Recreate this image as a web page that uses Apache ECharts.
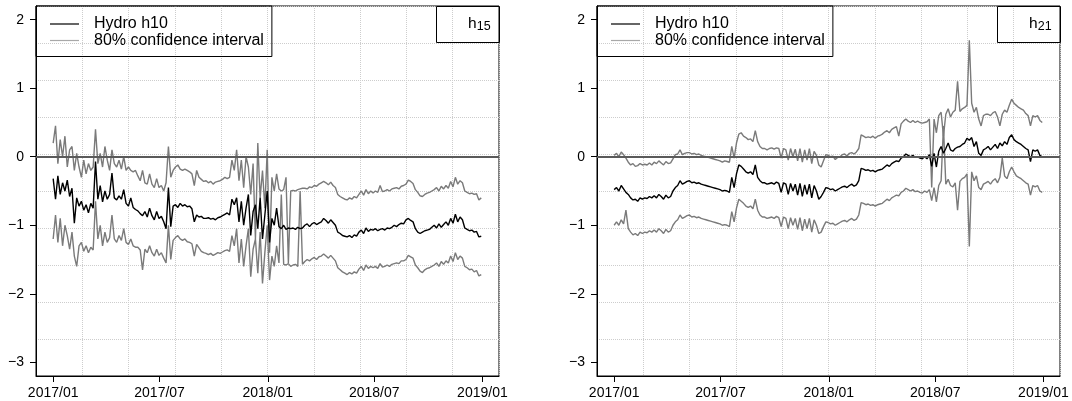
<!DOCTYPE html>
<html><head><meta charset="utf-8">
<script src="https://cdn.jsdelivr.net/npm/echarts@6/dist/echarts.min.js"></script>
<style>html,body{margin:0;padding:0;background:#fff}#c{width:1072px;height:401px}</style>
</head><body><div id="c"></div>
<script>
// ---- data ----
const startDate = '2017-01-01';
const stepDays = 4; // one reading every 4 days from startDate
const xTickDays = [0, 181, 365, 546, 730];
const xTickLabels = ['2017/01', '2017/07', '2018/01', '2018/07', '2019/01'];
const yTicks = [-3, -2, -1, 0, 1, 2];
const panelLabels = [['h', '15'], ['h', '21']];
const seriesNames = ['Hydro h10', '80% confidence interval'];

const hydroL = [
-0.32,-0.62,-0.28,-0.55,-0.38,-0.5,-0.34,-0.58,-0.46,-0.97,
-0.6,-0.72,-0.65,-0.78,-0.7,-0.82,-0.68,-0.75,-0.07,-0.62,
-0.42,-0.66,-0.5,-0.62,-0.55,-0.24,-0.6,-0.63,-0.57,-0.62,
-0.48,-0.68,-0.72,-0.6,-0.74,-0.77,-0.79,-0.83,-0.86,-0.8,
-0.88,-0.75,-0.86,-0.92,-0.8,-0.9,-0.87,-0.95,-1.05,-0.45,
-1.02,-0.72,-0.7,-0.74,-0.68,-0.72,-0.7,-0.73,-0.72,-0.76,
-0.95,-0.85,-0.88,-0.87,-0.9,-0.9,-0.89,-0.91,-0.9,-0.92,
-0.89,-0.88,-0.86,-0.84,-0.82,-0.85,-0.62,-0.7,-0.6,-0.95,
-0.65,-1.0,-0.75,-0.55,-1.15,-0.8,-0.7,-1.05,-0.6,-1.2,
-0.85,-0.5,-1.25,-0.9,-1.0,-0.75,-1.02,-1.05,-1.0,-1.06,
-1.04,-1.05,-1.04,-1.06,-1.03,-1.05,-1.04,-1.0,-0.98,-1.02,
-0.98,-0.96,-0.99,-0.97,-0.95,-0.9,-0.93,-0.97,-0.92,-0.96,
-1.0,-1.1,-1.12,-1.15,-1.16,-1.17,-1.15,-1.18,-1.14,-1.16,
-1.1,-1.07,-1.12,-1.04,-1.09,-1.06,-1.07,-1.05,-1.08,-1.06,
-1.05,-1.07,-1.04,-1.05,-1.03,-1.0,-1.02,-0.99,-0.97,-0.98,
-0.92,-0.9,-0.93,-0.95,-1.05,-1.1,-1.12,-1.1,-1.08,-1.07,
-1.06,-1.03,-1.0,-1.04,-0.98,-1.03,-0.99,-0.95,-1.0,-0.9,
-0.97,-0.84,-0.95,-0.88,-0.92,-1.04,-1.06,-1.08,-1.07,-1.1,
-1.09,-1.17,-1.16
];
const upperL = [
0.2,0.45,-0.1,0.25,0.0,0.3,-0.15,0.1,0.15,-0.2,
0.05,-0.15,-0.3,-0.05,-0.25,-0.1,-0.2,-0.15,0.4,-0.1,
0.05,-0.15,0.15,-0.05,-0.2,0.1,-0.1,-0.15,-0.05,-0.18,
0.0,-0.2,-0.15,-0.2,-0.22,-0.2,-0.28,-0.35,-0.2,-0.38,
-0.4,-0.25,-0.4,-0.45,-0.32,-0.45,-0.42,-0.5,-0.38,0.15,
-0.3,-0.2,-0.15,-0.12,-0.18,-0.2,-0.18,-0.2,-0.22,-0.25,
-0.42,-0.2,-0.3,-0.33,-0.36,-0.35,-0.38,-0.36,-0.4,-0.37,
-0.36,-0.35,-0.33,-0.3,-0.32,-0.3,-0.05,-0.2,0.1,-0.35,
-0.05,-0.45,0.0,-0.15,-0.55,-0.1,-1.2,0.2,-0.6,-0.2,
-0.75,0.1,-1.4,-0.3,-0.5,-0.25,-0.47,-0.5,-0.48,-0.3,
-1.55,-0.5,-0.49,-0.5,-0.48,-0.47,-0.46,-0.46,-0.47,-0.44,
-0.45,-0.42,-0.43,-0.4,-0.38,-0.36,-0.38,-0.41,-0.37,-0.42,
-0.45,-0.55,-0.58,-0.6,-0.62,-0.63,-0.6,-0.62,-0.58,-0.6,
-0.55,-0.5,-0.56,-0.48,-0.54,-0.5,-0.53,-0.5,-0.52,-0.42,
-0.51,-0.5,-0.48,-0.5,-0.47,-0.46,-0.45,-0.47,-0.43,-0.42,
-0.4,-0.34,-0.36,-0.39,-0.48,-0.52,-0.57,-0.58,-0.55,-0.53,
-0.52,-0.5,-0.48,-0.45,-0.5,-0.43,-0.47,-0.42,-0.46,-0.36,
-0.44,-0.3,-0.4,-0.35,-0.38,-0.5,-0.52,-0.54,-0.53,-0.55,
-0.54,-0.63,-0.6
];
const lowerL = [
-1.2,-0.85,-1.25,-0.9,-1.3,-1.0,-1.15,-1.35,-1.1,-1.45,
-1.6,-1.3,-1.25,-1.38,-1.3,-1.4,-1.32,-1.36,-0.65,-1.2,
-1.0,-1.3,-1.1,-1.25,-1.18,-0.85,-1.2,-1.25,-1.15,-1.22,
-1.05,-1.25,-1.28,-1.2,-1.3,-1.32,-1.32,-1.36,-1.65,-1.35,
-1.4,-1.3,-1.4,-1.45,-1.35,-1.44,-1.4,-1.48,-1.55,-1.0,
-1.5,-1.22,-1.18,-1.15,-1.2,-1.22,-1.2,-1.24,-1.25,-1.27,
-1.45,-1.28,-1.33,-1.38,-1.4,-1.41,-1.43,-1.41,-1.44,-1.42,
-1.4,-1.41,-1.39,-1.37,-1.36,-1.38,-1.15,-1.3,-1.05,-1.55,
-1.2,-1.6,-1.3,-1.05,-1.75,-1.35,-1.2,-1.7,-1.1,-1.85,
-1.4,-1.0,-1.8,-1.45,-1.6,-1.3,-1.55,-0.55,-1.57,-1.58,
-1.56,-1.6,-1.58,-1.57,-1.6,-0.5,-1.57,-1.53,-1.5,-1.52,
-1.49,-1.47,-1.5,-1.46,-1.45,-1.42,-1.45,-1.48,-1.44,-1.48,
-1.52,-1.62,-1.65,-1.68,-1.7,-1.72,-1.69,-1.71,-1.68,-1.7,
-1.64,-1.6,-1.66,-1.58,-1.63,-1.6,-1.62,-1.6,-1.63,-1.56,
-1.61,-1.6,-1.58,-1.6,-1.57,-1.56,-1.55,-1.56,-1.52,-1.52,
-1.5,-1.44,-1.46,-1.48,-1.58,-1.62,-1.67,-1.69,-1.65,-1.63,
-1.62,-1.6,-1.58,-1.55,-1.6,-1.53,-1.57,-1.52,-1.55,-1.45,
-1.53,-1.4,-1.5,-1.45,-1.48,-1.6,-1.62,-1.65,-1.64,-1.68,
-1.66,-1.74,-1.72
];

const hydroR = [
-0.48,-0.45,-0.5,-0.42,-0.47,-0.52,-0.55,-0.6,-0.63,-0.62,
-0.65,-0.6,-0.62,-0.6,-0.61,-0.58,-0.6,-0.57,-0.6,-0.55,
-0.58,-0.62,-0.56,-0.6,-0.58,-0.5,-0.45,-0.42,-0.35,-0.4,
-0.38,-0.36,-0.35,-0.38,-0.37,-0.39,-0.38,-0.4,-0.41,-0.42,
-0.43,-0.44,-0.45,-0.46,-0.47,-0.48,-0.5,-0.49,-0.5,-0.52,
-0.3,-0.45,-0.25,-0.12,-0.14,-0.18,-0.22,-0.24,-0.22,-0.26,
-0.12,-0.3,-0.35,-0.38,-0.38,-0.4,-0.39,-0.38,-0.4,-0.37,
-0.39,-0.52,-0.38,-0.4,-0.55,-0.39,-0.5,-0.4,-0.56,-0.39,
-0.58,-0.41,-0.55,-0.4,-0.6,-0.42,-0.5,-0.62,-0.58,-0.52,
-0.45,-0.46,-0.48,-0.47,-0.5,-0.48,-0.46,-0.44,-0.43,-0.45,
-0.42,-0.4,-0.43,-0.41,-0.35,-0.17,-0.18,-0.2,-0.19,-0.21,
-0.2,-0.22,-0.2,-0.19,-0.18,-0.15,-0.12,-0.14,-0.1,-0.08,
-0.06,-0.07,-0.02,0.0,0.04,0.02,0.0,0.02,-0.01,0.0,
-0.02,-0.03,0.0,-0.03,0.03,-0.14,0.05,-0.15,0.08,0.15,
0.05,0.12,0.2,0.1,0.08,0.12,0.14,0.15,0.18,0.2,
0.27,0.24,0.28,0.15,0.22,0.05,0.02,0.1,0.12,0.15,
0.1,0.14,0.18,0.12,0.2,0.16,0.22,0.18,0.28,0.32,
0.25,0.22,0.2,0.18,0.15,0.12,0.1,-0.07,0.1,0.08,
0.1,0.02,0.0
];
const upperR = [
0.02,0.05,0.0,0.07,0.03,-0.02,-0.08,-0.12,-0.1,-0.14,
-0.13,-0.1,-0.12,-0.11,-0.12,-0.09,-0.12,-0.08,-0.1,-0.06,
-0.09,-0.12,-0.07,-0.1,-0.09,-0.03,0.03,0.04,0.1,0.03,
0.05,0.06,0.06,0.04,0.05,0.03,0.04,0.02,0.01,0.0,
-0.01,-0.02,-0.03,-0.04,-0.05,-0.06,-0.08,-0.06,-0.07,-0.08,
0.15,-0.02,0.2,0.33,0.35,0.3,0.28,0.25,0.26,0.22,
0.38,0.22,0.15,0.12,0.12,0.1,0.12,0.13,0.11,0.13,
0.12,-0.02,0.12,0.1,-0.05,0.12,0.0,0.11,-0.06,0.12,
-0.08,0.1,-0.05,0.12,-0.1,0.08,0.02,-0.12,-0.15,-0.06,
0.03,0.02,0.0,0.01,-0.04,-0.01,0.0,0.03,0.04,0.01,
0.05,0.06,0.04,0.07,0.12,0.32,0.3,0.28,0.29,0.28,
0.3,0.27,0.3,0.31,0.33,0.36,0.38,0.35,0.4,0.42,
0.44,0.3,0.48,0.52,0.55,0.52,0.5,0.53,0.5,0.52,
0.5,0.49,0.5,0.51,0.55,-0.45,0.55,0.35,0.6,0.65,
0.3,0.62,0.7,0.58,0.65,0.68,1.1,0.66,0.7,0.72,
0.75,1.7,0.78,0.65,0.72,0.55,0.45,0.6,0.62,0.62,
0.6,0.64,0.66,0.58,0.45,0.62,0.68,0.65,0.75,0.84,
0.78,0.75,0.72,0.7,0.68,0.63,0.6,0.45,0.6,0.58,
0.6,0.53,0.5
];
const lowerR = [
-1.0,-0.95,-1.0,-0.92,-0.98,-0.78,-1.05,-1.1,-1.14,-1.12,
-1.15,-1.1,-1.12,-1.1,-1.11,-1.08,-1.1,-1.07,-1.1,-1.05,
-1.08,-1.12,-1.06,-1.1,-1.08,-1.0,-0.95,-0.92,-0.85,-0.9,
-0.88,-0.86,-0.85,-0.88,-0.87,-0.89,-0.88,-0.9,-0.91,-0.92,
-0.93,-0.94,-0.95,-0.96,-0.97,-0.98,-1.0,-0.99,-1.0,-1.02,
-0.8,-0.95,-0.75,-0.62,-0.65,-0.68,-0.72,-0.74,-0.72,-0.76,
-0.62,-0.78,-0.85,-0.88,-0.88,-0.9,-0.89,-0.88,-0.9,-0.87,
-0.89,-1.02,-0.88,-0.9,-1.05,-0.89,-1.0,-0.9,-1.06,-0.89,
-1.08,-0.91,-1.05,-0.9,-1.1,-0.92,-1.0,-1.12,-1.1,-1.02,
-0.95,-0.96,-0.98,-0.97,-1.0,-0.98,-0.96,-0.94,-0.93,-0.95,
-0.92,-0.9,-0.93,-0.91,-0.85,-0.67,-0.68,-0.7,-0.69,-0.71,
-0.7,-0.72,-0.7,-0.69,-0.68,-0.65,-0.62,-0.64,-0.6,-0.58,
-0.56,-0.57,-0.52,-0.5,-0.46,-0.48,-0.5,-0.48,-0.51,-0.5,
-0.52,-0.53,-0.5,-0.52,-0.48,-0.64,-0.45,-0.66,-0.42,-0.35,
0.45,-0.4,-0.33,-0.42,-0.44,-0.38,-0.78,-0.36,-0.32,-0.3,
-0.25,-1.31,-0.22,-0.35,-0.28,-0.45,-0.48,-0.4,-0.38,-0.36,
-0.4,-0.35,-0.32,-0.38,-0.3,-0.02,-0.28,-0.32,-0.22,-0.15,
-0.22,-0.28,-0.3,-0.32,-0.35,-0.38,-0.4,-0.56,-0.42,-0.44,
-0.42,-0.5,-0.52
];

// ---- layout / style ----
const FONT = 'Liberation Sans, Arial, Helvetica, sans-serif';
const GR = [
  { left: 36, top: 6, width: 463, height: 370 },
  { left: 597, top: 6, width: 463, height: 370 }
];
const panels = [
  { hydro: hydroL, upper: upperL, lower: lowerL },
  { hydro: hydroR, upper: upperR, lower: lowerR }
];
const toPts = arr => arr.map((v, i) => [i * stepDays, v]);
const minus = v => (v < 0 ? '\u2212' + Math.abs(v) : String(v));

const xAxis = [], yAxis = [], series = [], legend = [], graphic = [];
GR.forEach((g, p) => {
  xAxis.push({
    type: 'value', gridIndex: p, min: -29.2, max: 758.2, position: 'bottom',
    axisLine: { show: true, onZero: false, lineStyle: { color: '#000', width: 1 } },
    axisTick: { show: true, length: 6, customValues: xTickDays, lineStyle: { color: '#000' } },
    axisLabel: { customValues: xTickDays, formatter: v => xTickLabels[xTickDays.indexOf(v)] || '',
      fontSize: 14, color: '#000', margin: 10, fontFamily: FONT },
    splitLine: { show: false }
  });
  yAxis.push({
    type: 'value', gridIndex: p, min: -3.2, max: 2.2, position: 'left',
    axisLine: { show: true, onZero: false, lineStyle: { color: '#000', width: 1 } },
    axisTick: { show: true, length: 6, customValues: yTicks, lineStyle: { color: '#000' } },
    axisLabel: { customValues: yTicks, formatter: minus, fontSize: 14, color: '#000', margin: 12, fontFamily: FONT },
    splitLine: { show: false }
  });
});
// helper axes for the dotted 10x10 reference grid
GR.forEach((g, p) => {
  const help = {
    type: 'value', gridIndex: p, min: 0, max: 10, interval: 1,
    axisLine: { show: false, onZero: false }, axisTick: { show: false }, axisLabel: { show: false },
    splitLine: { show: true, lineStyle: { color: '#cdcdcd', type: 'dotted', width: 1 } }
  };
  xAxis.push(Object.assign({}, help, { position: 'top' }));
  yAxis.push(Object.assign({}, help, { position: 'right' }));
});

GR.forEach((g, p) => {
  const d = panels[p];
  const base = { type: 'line', xAxisIndex: p, yAxisIndex: p, symbol: 'none', showSymbol: false,
    animation: false, silent: true };
  series.push(Object.assign({}, base, { name: seriesNames[1], data: toPts(d.upper),
    lineStyle: { color: '#7a7a7a', width: 1.4 }, itemStyle: { color: '#7a7a7a' } }));
  series.push(Object.assign({}, base, { name: seriesNames[1], data: toPts(d.lower),
    lineStyle: { color: '#7a7a7a', width: 1.4 }, itemStyle: { color: '#7a7a7a' } }));
  series.push(Object.assign({}, base, { name: seriesNames[0], data: toPts(d.hydro),
    lineStyle: { color: '#000', width: 1.4 }, itemStyle: { color: '#000' },
    markLine: { silent: true, symbol: ['none', 'none'], animation: false, label: { show: false },
      lineStyle: { color: '#5a5a5a', width: 1.8, type: 'solid' }, data: [{ yAxis: 0 }] } }));

  legend.push({
    data: [
      { name: seriesNames[0], icon: 'rect', itemStyle: { color: '#000' } },
      { name: seriesNames[1], icon: 'rect', itemStyle: { color: '#a8a8a8' } }
    ],
    left: g.left, top: g.top, orient: 'vertical', selectedMode: false,
    padding: [10, 8, 8, 14], itemWidth: 29, itemHeight: 1.2, itemGap: 0.5,
    borderColor: '#000', borderWidth: 1, borderRadius: 0, backgroundColor: 'transparent',
    textStyle: { fontSize: 16, lineHeight: 15, color: '#000', fontFamily: FONT, padding: [0, 0, 0, 10] }
  });

  const bx = g.left + g.width - 63;
  graphic.push({ type: 'rect', silent: true, z: 100,
    shape: { x: bx + 0.5, y: g.top + 0.5, width: 63, height: 36 },
    style: { fill: 'none', stroke: '#000', lineWidth: 1 } });
  graphic.push({ type: 'text', silent: true, z: 100, x: g.left + g.width - 22.5, y: g.top + 25.5,
    style: { text: panelLabels[p][0], fontSize: 15.5, fontFamily: FONT, fill: '#000',
      textAlign: 'right', textVerticalAlign: 'bottom' } });
  graphic.push({ type: 'text', silent: true, z: 100, x: g.left + g.width - 8.3, y: g.top + 27.5,
    style: { text: panelLabels[p][1], fontSize: 12.5, fontFamily: FONT, fill: '#000',
      textAlign: 'right', textVerticalAlign: 'bottom' } });
});

const chart = echarts.init(document.getElementById('c'), null, { renderer: 'canvas' });
chart.setOption({
  backgroundColor: '#fff',
  animation: false,
  grid: GR.map(g => Object.assign({}, g, { show: true, borderColor: '#000', borderWidth: 1,
    backgroundColor: 'transparent', containLabel: false })),
  xAxis, yAxis, series, legend, graphic
});
</script>
</body></html>
